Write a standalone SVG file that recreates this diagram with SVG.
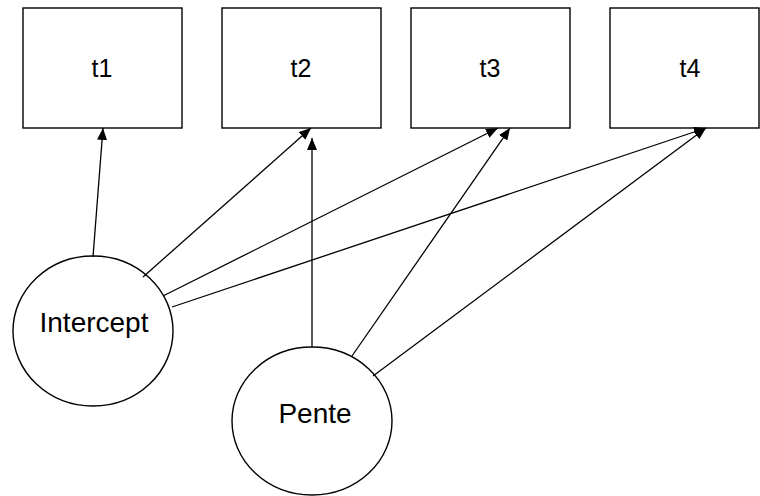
<svg xmlns="http://www.w3.org/2000/svg" width="760" height="496" viewBox="0 0 760 496">
<style>
.box{fill:#fff;stroke:#000;stroke-width:1.4}
.lat{fill:#fff;stroke:#000;stroke-width:1.4}
.lbl{font-family:"Liberation Sans",Arial,sans-serif;fill:#000;text-anchor:middle}
.t{font-size:25px}
.l{font-size:28px}
.edge{stroke:#000;stroke-width:1.3;fill:none;marker-end:url(#arr)}
</style>
<defs>
<marker id="arr" markerUnits="userSpaceOnUse" viewBox="0 0 12 10" refX="12" refY="5" markerWidth="12" markerHeight="10" orient="auto">
<path d="M0,0 L12,5 L0,10 Z" fill="#000"/>
</marker>
</defs>
<rect width="760" height="496" fill="#fff"/>
<g id="t1"><rect class="box" x="23" y="8" width="159" height="120"/><text class="lbl t" x="102" y="77">t1</text></g>
<g id="t2"><rect class="box" x="222" y="8" width="159" height="120"/><text class="lbl t" x="301" y="77">t2</text></g>
<g id="t3"><rect class="box" x="411" y="8" width="159" height="120"/><text class="lbl t" x="490" y="77">t3</text></g>
<g id="t4"><rect class="box" x="610" y="8" width="149" height="120"/><text class="lbl t" x="690" y="77">t4</text></g>
<g id="intercept"><ellipse class="lat" cx="93" cy="331" rx="80" ry="75"/><text class="lbl l" x="94" y="332">Intercept</text></g>
<g id="pente"><ellipse class="lat" cx="312" cy="421" rx="80" ry="74"/><text class="lbl l" x="315" y="423">Pente</text></g>
<g id="connectors">
<line class="edge" x1="93" y1="257" x2="103" y2="128"/>
<line class="edge" x1="143" y1="277" x2="311" y2="128"/>
<line class="edge" x1="163" y1="296" x2="498" y2="128"/>
<line class="edge" x1="172" y1="307" x2="706" y2="128"/>
<line class="edge" x1="312" y1="347" x2="312" y2="138"/>
<line class="edge" x1="352" y1="356" x2="510" y2="128"/>
<line class="edge" x1="373" y1="376" x2="706" y2="128"/>
</g>
</svg>
